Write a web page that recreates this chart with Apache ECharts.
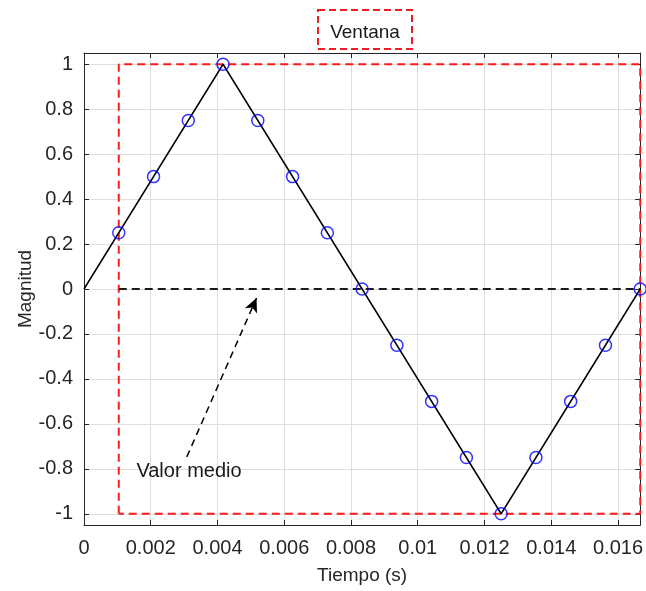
<!DOCTYPE html>
<html><head><meta charset="utf-8">
<script src="https://cdn.jsdelivr.net/npm/echarts@6/dist/echarts.min.js"></script>
<style>html,body{margin:0;padding:0;background:#fff}#c{width:646px;height:591px}</style>
</head><body><div id="c"></div>
<script>
// signal (triangle wave, one period of 1/60 s)
const lineTimes = [0, 0.0041667, 0.0125, 0.0166667];
const lineValues = [0, 1, -1, 0];
// samples
const sampleTimes = [0.0010417, 0.0020833, 0.003125, 0.0041667, 0.0052083, 0.00625, 0.0072917, 0.0083333, 0.009375, 0.0104167, 0.0114583, 0.0125, 0.0135417, 0.0145833, 0.015625, 0.0166667];
const sampleValues = [0.25, 0.5, 0.75, 1, 0.75, 0.5, 0.25, 0, -0.25, -0.5, -0.75, -1, -0.75, -0.5, -0.25, 0];
// window rectangle
const windowX = [0.0010417, 0.0166667];
const windowY = [-1, 1];
// mean value line
const meanX = [0.0010417, 0.0166667];
const meanValue = 0;
// annotation arrow
const arrowFrom = [0.00308, -0.747];
const arrowTo = [0.00517, -0.04];
const annotText = 'Valor medio';
const annotPos = [0.00157, -0.81];
// axes
const xTicks = [0, 0.002, 0.004, 0.006, 0.008, 0.01, 0.012, 0.014, 0.016];
const yTicks = [-1, -0.8, -0.6, -0.4, -0.2, 0, 0.2, 0.4, 0.6, 0.8, 1];
const xRange = [0, 0.0166667];
const yRange = [-1.05, 1.05];
const titleText = 'Ventana';
const xName = 'Tiempo (s)';
const yName = 'Magnitud';

const axisColor = '#262626';
const gridColor = '#dedede';
const font = 'Arial, "Liberation Sans", Helvetica, sans-serif';

const chart = echarts.init(document.getElementById('c'));
const baseX = {
  type: 'value', min: xRange[0], max: xRange[1],
  axisLine: {show: true, onZero: false, lineStyle: {color: axisColor, width: 1}},
  axisTick: {show: true, inside: true, length: 5, customValues: xTicks, lineStyle: {color: axisColor}},
  axisLabel: {show: false, customValues: xTicks},
  splitLine: {show: false}
};
const baseY = {
  type: 'value', min: yRange[0], max: yRange[1],
  axisLine: {show: true, onZero: false, lineStyle: {color: axisColor, width: 1}},
  axisTick: {show: true, inside: true, length: 5, customValues: yTicks, lineStyle: {color: axisColor}},
  axisLabel: {show: false, customValues: yTicks},
  splitLine: {show: false}
};
const rectData = [
  [windowX[0], windowY[0]], [windowX[0], windowY[1]], [windowX[1], windowY[1]],
  [windowX[1], windowY[0]], [windowX[0], windowY[0]]
];
chart.setOption({
  animation: false,
  grid: {left: 84, right: 4, top: 53, bottom: 66},
  graphic: [{
    type: 'group', left: 317, top: 9,
    children: [
      {type: 'rect', shape: {x: 0, y: 0, width: 94, height: 39},
       style: {fill: '#fff', stroke: '#ee1c25', lineWidth: 2, lineDash: [7, 4]}},
      {type: 'text', x: 47, y: 23,
       style: {text: titleText, fill: '#1a1a1a', font: '19px ' + font, align: 'center', verticalAlign: 'middle'}}
    ]
  }],
  xAxis: [
    Object.assign({}, baseX, {
      position: 'bottom',
      name: xName, nameLocation: 'middle', nameGap: 41, nameMoveOverlap: false,
      nameTextStyle: {color: axisColor, fontSize: 19, fontFamily: font},
      axisLabel: {show: true, customValues: xTicks, color: axisColor, fontSize: 20, fontFamily: font, margin: 13},
      splitLine: {show: true, lineStyle: {color: gridColor, width: 1}}
    }),
    Object.assign({}, baseX, {position: 'top'})
  ],
  yAxis: [
    Object.assign({}, baseY, {
      position: 'left',
      name: yName, nameLocation: 'middle', nameGap: 49, nameMoveOverlap: false,
      nameTextStyle: {color: axisColor, fontSize: 19, fontFamily: font},
      axisLabel: {show: true, customValues: yTicks, color: axisColor, fontSize: 20, fontFamily: font, margin: 11},
      splitLine: {show: true, lineStyle: {color: gridColor, width: 1}}
    }),
    Object.assign({}, baseY, {position: 'right'})
  ],
  series: [
    {
      type: 'line', name: 'window', data: rectData, symbol: 'none', z: 3,
      lineStyle: {color: '#ff1a1a', width: 2, type: [8, 5]}, clip: false
    },
    {
      type: 'line', name: 'mean', data: meanX.map(x => [x, meanValue]), symbol: 'none', z: 4,
      lineStyle: {color: '#1a1a1a', width: 2, type: [8, 5]}
    },
    {
      type: 'line', name: 'signal', data: lineTimes.map((t, i) => [t, lineValues[i]]), symbol: 'none', z: 5,
      lineStyle: {color: '#000', width: 1.5}
    },
    {
      type: 'scatter', name: 'samples', data: sampleTimes.map((t, i) => [t, sampleValues[i]]), z: 6,
      symbol: 'circle', symbolSize: 12, clip: false,
      itemStyle: {color: 'rgba(0,0,0,0)', borderColor: '#0000ff', borderWidth: 1.5}
    },
    {
      type: 'line', name: 'annot', data: [], z: 7,
      markLine: {
        silent: true, symbol: ['none', 'arrow'], symbolSize: [10, 14],
        label: {show: false},
        lineStyle: {color: '#000', width: 1.5, type: [7, 5]},
        data: [[{coord: arrowFrom}, {coord: arrowTo}]]
      },
      markPoint: {
        silent: true, symbol: 'circle', symbolSize: 0,
        label: {show: true, formatter: annotText, position: 'right', distance: 0, color: '#1a1a1a', fontSize: 20, fontFamily: font},
        data: [{coord: annotPos}]
      }
    }
  ]
});
</script></body></html>
